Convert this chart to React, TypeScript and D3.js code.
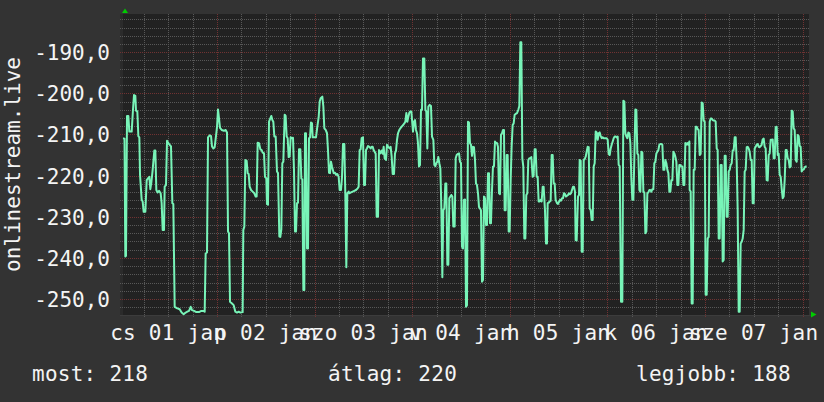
import React from "react";
import * as d3 from "d3";

const W = 824;
const H = 402;
const T0 = Date.UTC(2015, 0, 1);
const HOUR = 3600e3;

// visible time window in hours since 2015-01-01 00:00 and value window
const timeWindow = [0.885, 169.57];
const valueWindow = [-253.9, -180.7];

const yMajorTicks = [-250, -240, -230, -220, -210, -200, -190];
const yTickLabels = ["-250,0", "-240,0", "-230,0", "-220,0", "-210,0", "-200,0", "-190,0"];
const dayLabels = ["cs 01 jan", "p 02 jan", "szo 03 jan", "v 04 jan", "h 05 jan", "k 06 jan", "sze 07 jan"];
const axisTitle = "onlinestream.live";
const legendTexts = ["most: 218", "átlag: 220", "legjobb: 188"];

// [hours since 2015-01-01 00:00, value]
const series: [number, number][] = [
  [0.9,-210.9],[1.25,-211.0],[1.45,-239.7],[1.62,-239.5],[1.87,-205.5],[2.2,-205.5],[2.44,-209.3],[3.02,-209.3],[3.34,-204.0],[3.59,-200.4],
  [3.92,-200.6],[4.08,-204.2],[4.41,-204.4],[4.66,-210.4],[4.9,-210.7],[5.07,-219.8],[5.48,-225.9],[5.72,-226.3],[5.97,-228.8],[6.38,-228.8],
  [6.71,-221.1],[7.03,-220.7],[7.36,-220.3],[7.61,-223.3],[7.85,-221.7],[8.18,-218.6],[8.59,-213.9],[8.84,-213.9],[9.08,-223.5],[9.41,-224.1],
  [9.74,-223.7],[10.15,-224.3],[10.39,-226.7],[10.64,-233.2],[10.97,-233.2],[11.13,-222.7],[11.46,-222.3],[11.71,-211.5],[12.03,-212.1],[12.36,-212.5],
  [12.69,-212.9],[13.02,-226.7],[13.26,-226.9],[13.59,-251.9],[14.25,-252.3],[14.82,-252.5],[15.31,-253.3],[15.8,-253.7],[16.3,-253.3],[16.71,-253.1],
  [17.12,-252.9],[17.53,-251.9],[17.85,-252.7],[18.35,-252.9],[18.92,-253.2],[19.57,-253.2],[20.15,-252.9],[20.64,-252.9],[20.97,-253.1],[21.21,-238.9],
  [21.54,-238.7],[21.79,-210.7],[22.2,-210.2],[22.53,-210.4],[22.77,-212.9],[23.1,-213.4],[23.43,-213.1],[23.75,-210.4],[24.0,-208.2],[24.25,-203.9],
  [24.49,-206.1],[24.74,-208.4],[25.15,-208.9],[25.72,-209.1],[26.13,-208.9],[26.46,-209.5],[26.71,-233.6],[26.95,-234.0],[27.2,-250.7],[27.69,-251.1],
  [28.1,-251.5],
  [28.51,-253.1],[28.92,-253.3],[29.33,-253.1],[29.74,-253.3],[30.31,-253.2],[30.47,-233.2],[30.72,-232.4],[30.97,-216.2],[31.29,-216.4],[31.54,-219.4],
  [31.79,-219.6],[32.03,-222.7],[32.36,-223.5],[32.77,-223.9],[33.18,-224.3],[33.51,-225.1],[33.75,-225.1],[34.0,-212.0],[34.33,-212.1],[34.66,-213.6],
  [34.98,-213.8],[35.23,-214.4],[35.56,-214.6],[35.8,-220.3],[36.13,-220.7],[36.29,-226.9],[36.54,-227.1],[36.79,-206.9],[37.11,-206.1],[37.36,-205.5],
  [37.61,-206.5],[37.85,-206.9],[38.1,-210.5],[38.43,-210.5],[38.75,-219.0],[39.0,-219.4],[39.33,-234.8],[39.57,-234.9],[39.82,-233.1],[40.06,-217.0],
  [40.31,-216.6],[40.64,-205.2],[40.88,-205.5],[41.13,-210.5],[41.38,-210.9],[41.62,-215.5],[41.87,-215.4],[42.11,-210.7],[42.44,-210.9],[42.69,-210.8],
  [42.93,-218.6],[43.18,-233.6],[43.43,-233.6],[43.67,-226.7],[43.92,-226.6],[44.16,-213.6],[44.49,-213.6],[44.74,-220.7],[44.98,-220.9],[45.23,-247.8],
  [45.47,-247.8],[45.64,-209.7],[45.88,-209.7],[46.13,-237.7],[46.38,-237.7],[46.62,-210.9],[46.87,-210.7],[47.11,-207.1],[47.36,-207.3],[47.52,-210.7],
  [47.93,-210.7],[48.34,-210.7],[48.67,-208.1],[49.0,-205.8],[49.25,-202.0],[49.49,-201.2],[49.9,-200.8],[50.15,-203.2],[50.39,-208.5],[50.72,-208.9],
  [51.05,-209.7],[51.29,-213.8],[51.54,-219.3],[51.79,-219.4],[52.03,-216.6],[52.28,-217.8],[52.69,-219.4],[53.02,-219.3],[53.26,-219.8],[53.59,-219.6],
  [53.92,-220.3],[54.16,-223.5],[54.49,-223.5],[54.74,-220.3],[54.98,-212.3],[55.31,-212.3],[55.56,-225.1],[55.8,-242.3],[56.05,-224.3],[56.38,-223.9],
  [56.54,-224.3],[56.95,-224.1],[57.36,-223.9],[57.77,-223.7],[58.18,-223.5],[58.59,-223.1],[58.83,-222.7],[59.08,-213.8],[59.33,-213.6],[59.57,-210.9],
  [59.9,-210.7],[60.15,-222.3],[60.39,-222.3],[60.64,-213.8],[60.88,-213.4],[61.13,-212.8],[61.46,-213.0],[61.79,-213.4],[62.03,-213.0],[62.28,-213.0],
  [62.52,-213.8],[62.77,-214.2],[63.02,-214.7],[63.26,-230.0],[63.59,-230.0],[63.83,-213.8],[64.16,-214.6],[64.49,-213.9],[64.74,-214.7],[64.98,-213.0],
  [65.23,-215.8],[65.56,-216.2],[65.8,-212.5],[66.13,-213.0],[66.46,-213.4],[66.7,-213.0],[66.95,-215.4],[67.2,-219.6],[67.52,-219.6],[67.77,-214.6],
  [68.02,-213.9],[68.26,-211.3],[68.51,-209.7],[68.83,-208.9],[69.08,-208.5],[69.41,-208.1],[69.74,-207.7],[70.06,-207.3],[70.31,-206.9],[70.56,-204.8],
  [70.8,-206.9],[71.05,-205.7],[71.29,-204.7],[71.54,-204.4],[71.79,-204.4],[72.03,-207.3],[72.2,-209.3],[72.44,-206.9],[72.69,-206.5],[72.93,-208.9],
  [73.18,-209.7],[73.42,-212.1],[73.67,-217.8],[73.92,-217.4],[74.16,-204.0],[74.41,-204.0],[74.65,-191.5],[74.98,-191.5],[75.23,-204.0],[75.47,-204.4],
  [75.72,-213.4],[75.97,-203.2],[76.29,-202.8],[76.62,-203.1],[76.87,-210.5],[77.2,-211.3],[77.44,-217.4],[77.69,-217.7],[77.93,-217.0],[78.18,-216.6],
  [78.42,-215.5],[78.67,-217.0],[78.92,-218.2],[79.16,-227.6],[79.41,-244.7],[79.65,-228.4],[79.9,-228.0],[80.15,-221.9],[80.39,-221.9],[80.64,-241.7],
  [80.88,-241.7],[81.13,-225.5],[81.38,-225.1],[81.62,-224.7],[81.87,-225.1],[82.11,-232.4],[82.44,-232.4],[82.69,-215.8],[82.93,-215.0],[83.26,-214.7],
  [83.51,-214.6],[83.75,-216.6],[84.0,-217.0],
  [84.24,-237.3],[84.49,-237.7],[84.73,-225.9],[84.98,-225.8],[85.23,-251.9],[85.47,-251.5],[85.72,-206.9],[85.96,-207.1],[86.21,-212.1],[86.45,-212.5],
  [86.7,-215.2],[86.95,-213.0],[87.19,-213.1],[87.44,-216.2],[87.68,-221.9],[87.93,-222.3],[88.18,-224.3],[88.42,-227.6],[88.67,-228.0],[88.91,-228.4],
  [89.16,-245.8],[89.41,-245.4],[89.65,-225.1],[89.9,-225.5],[90.14,-232.0],[90.39,-232.0],[90.64,-219.4],[90.88,-219.4],[91.13,-231.6],[91.37,-231.6],
  [91.62,-223.5],[91.86,-217.8],[92.11,-217.7],[92.36,-211.7],[92.6,-212.1],[92.85,-212.1],[93.09,-213.0],[93.34,-224.3],[93.59,-224.5],[93.83,-210.1],
  [94.08,-209.7],[94.32,-208.9],[94.57,-208.9],[94.73,-228.4],[94.98,-228.4],[95.23,-215.0],[95.47,-215.0],[95.72,-233.6],[95.96,-233.6],[96.21,-221.1],
  [96.45,-213.0],[96.7,-207.7],[96.95,-207.3],[97.19,-205.2],[97.44,-205.0],[97.77,-204.8],[98.09,-204.0],[98.34,-203.1],[98.59,-187.6],[98.83,-187.6],
  [99.08,-215.8],[99.32,-217.8],[99.57,-235.3],[99.82,-235.3],[100.06,-224.7],[100.31,-224.3],[100.55,-216.2],[100.8,-215.8],[101.05,-215.8],[101.29,-215.5],
  [101.62,-220.3],[101.86,-220.1],[102.11,-213.6],[102.36,-213.6],[102.6,-220.3],[102.85,-220.3],[103.09,-226.3],[103.34,-226.3],[103.59,-225.9],[103.83,-226.3],
  [104.08,-222.7],[104.32,-222.7],[104.65,-228.4],[104.9,-236.5],[105.14,-236.5],[105.31,-226.7],[105.55,-226.6],[105.8,-226.3],[106.05,-226.1],[106.29,-215.0],
  [106.54,-215.0],[106.78,-221.9],[107.03,-221.9],[107.27,-225.9],[107.6,-226.7],[107.85,-226.9],[108.09,-226.4],[108.34,-225.9],[108.59,-226.1],[108.83,-225.5],
  [109.08,-225.5],[109.32,-224.3],[109.57,-224.5],[109.82,-225.1],[110.06,-224.9],[110.31,-224.7],[110.55,-224.3],[110.8,-224.5],[111.05,-224.3],[111.29,-223.5],
  [111.54,-222.7],[111.78,-222.7],[112.03,-223.9],[112.19,-235.7],[112.44,-235.8],
  [112.77,-225.1],[113.02,-224.7],[113.18,-216.2],[113.43,-216.4],[113.68,-238.5],[113.92,-238.5],[114.17,-216.2],[114.41,-216.0],[114.66,-215.4],[114.9,-214.2],
  [115.15,-213.0],[115.4,-213.1],[115.64,-228.0],[115.89,-228.4],[116.13,-230.8],[116.38,-230.8],[116.63,-217.8],[116.87,-217.0],[117.12,-209.3],[117.36,-209.5],
  [117.61,-211.3],[117.86,-209.7],[118.1,-209.5],[118.35,-210.4],[118.59,-210.9],[118.84,-210.7],[119.09,-210.9],[119.82,-210.9],[120.07,-211.3],[120.31,-214.7],
  [120.56,-215.0],[120.81,-213.4],[121.05,-212.5],[121.3,-211.7],[121.54,-210.9],[121.79,-210.5],[122.04,-210.5],[122.28,-210.7],[122.53,-210.5],[122.77,-217.4],
  [123.02,-217.7],[123.35,-250.7],[123.67,-250.7],[123.92,-201.8],[124.17,-202.0],[124.41,-209.7],[124.66,-210.5],[124.9,-210.9],[125.15,-209.5],[125.4,-209.7],
  [125.64,-212.1],[125.89,-220.7],[126.13,-225.9],[126.38,-225.9],[126.63,-215.4],[126.87,-203.9],[127.12,-204.0],[127.36,-214.6],[127.61,-215.0],[127.86,-223.5],
  [128.1,-223.9],[128.35,-214.2],[128.59,-214.4],[128.84,-223.9],[129.09,-224.1],[129.33,-234.0],[129.58,-233.6],[129.82,-224.3],[130.07,-224.1],[130.31,-223.5],
  [130.56,-223.5],[130.81,-223.9],[131.05,-223.3],[131.3,-223.3],[131.54,-217.0],[131.79,-216.6],[132.04,-214.6],[132.28,-214.2],[132.53,-213.8],[132.77,-212.5],
  [133.02,-212.3],[133.27,-212.3],[133.51,-212.5],[133.76,-218.6],[134.0,-218.6],[134.25,-216.2],[134.5,-217.0],[134.74,-218.6],[134.99,-219.4],[135.23,-223.9],
  [135.48,-223.9],[135.72,-221.1],[135.97,-221.1],[136.22,-214.2],[136.46,-214.6],[136.71,-215.4],[136.95,-216.6],[137.2,-222.3],[137.45,-222.3],[137.69,-217.4],
  [137.94,-217.4],[138.18,-217.8],[138.43,-217.8],[138.68,-222.3],[138.92,-222.3],[139.17,-212.1],[139.41,-212.5],[139.66,-212.1],[139.9,-212.5],[140.15,-211.7],
  [140.23,-223.5],[140.48,-223.9],[140.72,-251.1],[140.97,-251.1],[141.21,-218.6],[141.46,-218.6],[141.71,-208.1],[141.95,-208.1],[142.2,-208.7],[142.44,-208.9],
  [142.69,-215.0],[142.93,-214.7],[143.18,-202.2],[143.43,-202.4],[143.67,-206.6],[143.92,-206.9],[144.16,-249.0],[144.41,-249.0],[144.66,-235.3],[144.9,-234.9],
  [145.15,-206.9],[145.39,-206.1],[145.64,-206.1],[145.89,-206.5],[146.13,-206.6],[146.38,-206.6],[146.62,-206.9],[146.87,-213.4],[147.11,-213.8],[147.36,-235.3],
  [147.61,-235.3],[147.85,-217.4],[148.1,-217.4],[148.34,-240.9],[148.59,-240.5],[148.84,-215.2],[149.08,-215.2],[149.33,-230.0],[149.57,-230.0],[149.82,-219.0],
  [150.07,-218.6],[150.31,-217.4],[150.56,-217.0],[150.8,-213.9],[151.05,-213.8],[151.3,-210.7],[151.54,-210.7],[151.79,-216.6],[152.03,-228.4],[152.28,-253.1],
  [152.52,-253.1],[152.77,-236.5],[153.02,-236.1],[153.26,-235.3],[153.51,-233.2],[153.75,-219.0],[154.0,-218.6],[154.25,-213.1],[154.49,-213.0],[154.74,-213.4],
  [154.98,-214.2],[155.23,-216.2],[155.48,-216.2],[155.72,-226.7],[155.97,-226.7],[156.21,-213.4],[156.46,-213.0],[156.7,-212.5],[156.95,-212.3],[157.2,-213.0],
  [157.44,-213.1],[157.69,-212.8],[157.93,-212.5],[158.18,-211.2],[158.43,-211.0],[158.67,-213.0],[158.92,-213.4],[159.16,-221.1],[159.41,-221.2],[159.66,-215.0],
  [159.9,-214.6],[160.15,-211.3],[160.39,-211.3],[160.64,-211.2],[160.89,-215.8],[161.13,-215.8],[161.38,-208.2],[161.62,-208.1],[161.87,-215.0],[162.11,-214.7],
  [162.36,-219.8],[162.61,-220.3],[162.85,-223.1],[163.1,-225.5],[163.34,-225.1],[163.59,-221.1],[163.84,-213.8],[164.08,-213.8],[164.33,-215.8],[164.57,-216.2],
  [164.82,-218.0],[165.07,-217.8],[165.31,-204.2],[165.56,-204.4],[165.8,-208.5],[166.05,-208.9],[166.3,-216.2],[166.54,-216.6],[166.79,-210.1],[167.03,-210.4],
  [167.28,-212.8],[167.52,-213.0],[167.77,-219.0],[168.02,-218.6],[168.26,-218.5],[168.51,-218.0],[168.75,-217.8],[169.0,-217.8],
];

const FONT = "'DejaVu Sans Mono', monospace";
const FS = 21;
const LS = 0.26;

export default function App() {
  const plot = { left: 123, right: 809, top: 14, bottom: 315 };
  const toDate = (h: number) => new Date(T0 + h * HOUR);
  const x = d3.scaleUtc().domain([toDate(timeWindow[0]), toDate(timeWindow[1])]).range([plot.left, plot.right]);
  const y = d3.scaleLinear().domain(valueWindow).range([plot.bottom, plot.top]);

  const [d0, d1] = x.domain();
  const minorX = d3.utcHour.every(6)!.range(d0, d1).filter((d) => d.getUTCHours() !== 0);
  const majorX = d3.utcDay.range(d0, d1);
  const minorY = d3.range(-254, -180, 2).filter((v) => v % 10 !== 0 && v >= valueWindow[0] && v <= valueWindow[1]);
  const dayStarts = d3.utcDay.range(toDate(0), toDate(168));

  const line = d3
    .line<[number, number]>()
    .x((d) => x(toDate(d[0])))
    .y((d) => y(d[1]));

  const minorColor = "#585858";
  const majorColor = "#703232";
  const textColor = "#f4f4f4";
  const gx0 = 120;
  const gx1 = plot.right + 1;
  const gy0 = plot.top;
  const gy1 = plot.bottom + 3;

  return (
    <svg width={W} height={H} style={{ position: "absolute", left: 0, top: 0, display: "block" }}>
      <defs>
        <pattern id="hMinor" width={2} height={1} patternUnits="userSpaceOnUse">
          <rect width={1} height={1} fill={minorColor} />
        </pattern>
        <pattern id="vMinor" width={1} height={2} patternUnits="userSpaceOnUse">
          <rect width={1} height={1} fill={minorColor} />
        </pattern>
        <pattern id="hMajor" width={2} height={1} patternUnits="userSpaceOnUse">
          <rect width={1} height={1} fill={majorColor} />
        </pattern>
        <pattern id="vMajor" width={1} height={2} patternUnits="userSpaceOnUse">
          <rect width={1} height={1} fill={majorColor} />
        </pattern>
      </defs>
      <rect x={0} y={0} width={W} height={H} fill="#333333" />
      <rect x={120} y={plot.top} width={plot.right - 120} height={plot.bottom - plot.top + 1} fill="#2b2b2b" />
      <rect x={plot.left} y={plot.top} width={plot.right - plot.left} height={plot.bottom - plot.top} fill="#222222" />

      <g shapeRendering="crispEdges">
        {minorY.map((v) => (
          <rect key={"my" + v} x={gx0} y={Math.round(y(v))} width={gx1 - gx0} height={1} fill="url(#hMinor)" />
        ))}
        {minorX.map((d) => (
          <rect key={"mx" + +d} x={Math.round(x(d))} y={gy0} width={1} height={gy1 - gy0} fill="url(#vMinor)" />
        ))}
        {yMajorTicks.map((v) => (
          <rect key={"My" + v} x={gx0} y={Math.round(y(v))} width={gx1 - gx0} height={1} fill="url(#hMajor)" />
        ))}
        {majorX.map((d) => (
          <rect key={"Mx" + +d} x={Math.round(x(d))} y={gy0} width={1} height={gy1 - gy0} fill="url(#vMajor)" />
        ))}
        <rect x={120} y={plot.bottom} width={plot.right + 2 - 120} height={1} fill="#3c3c3c" />
      </g>

      <polygon points={`125,8.5 122,13 128,13`} fill="#00cc00" />
      <polygon points={`816.5,314.5 811,311.5 811,317.5`} fill="#00cc00" />

      <path d={line(series) || ""} fill="none" stroke="#78f4b8" strokeWidth={2} strokeLinejoin="round" />

      {yMajorTicks.map((v, i) => (
        <text key={"yl" + v} x={110} y={y(v) + 8} textAnchor="end" fill={textColor} fontFamily={FONT} fontSize={FS}>
          {yTickLabels[i]}
        </text>
      ))}
      {dayStarts.map((d, i) => (
        <text
          key={"xl" + i}
          x={x(new Date(+d + 12 * HOUR))}
          y={339.5}
          textAnchor="middle"
          fill={textColor}
          fontFamily={FONT}
          fontSize={FS}
          letterSpacing={LS}
        >
          {dayLabels[i]}
        </text>
      ))}
      <text
        transform={`translate(19.5,${(plot.top + plot.bottom) / 2}) rotate(-90)`}
        textAnchor="middle"
        fill={textColor}
        fontFamily={FONT}
        fontSize={FS}
      >
        {axisTitle}
      </text>
      <text x={32} y={380.5} fill={textColor} fontFamily={FONT} fontSize={FS} letterSpacing={LS}>{legendTexts[0]}</text>
      <text x={328} y={380.5} fill={textColor} fontFamily={FONT} fontSize={FS} letterSpacing={LS}>{legendTexts[1]}</text>
      <text x={636} y={380.5} fill={textColor} fontFamily={FONT} fontSize={FS} letterSpacing={LS}>{legendTexts[2]}</text>
    </svg>
  );
}
